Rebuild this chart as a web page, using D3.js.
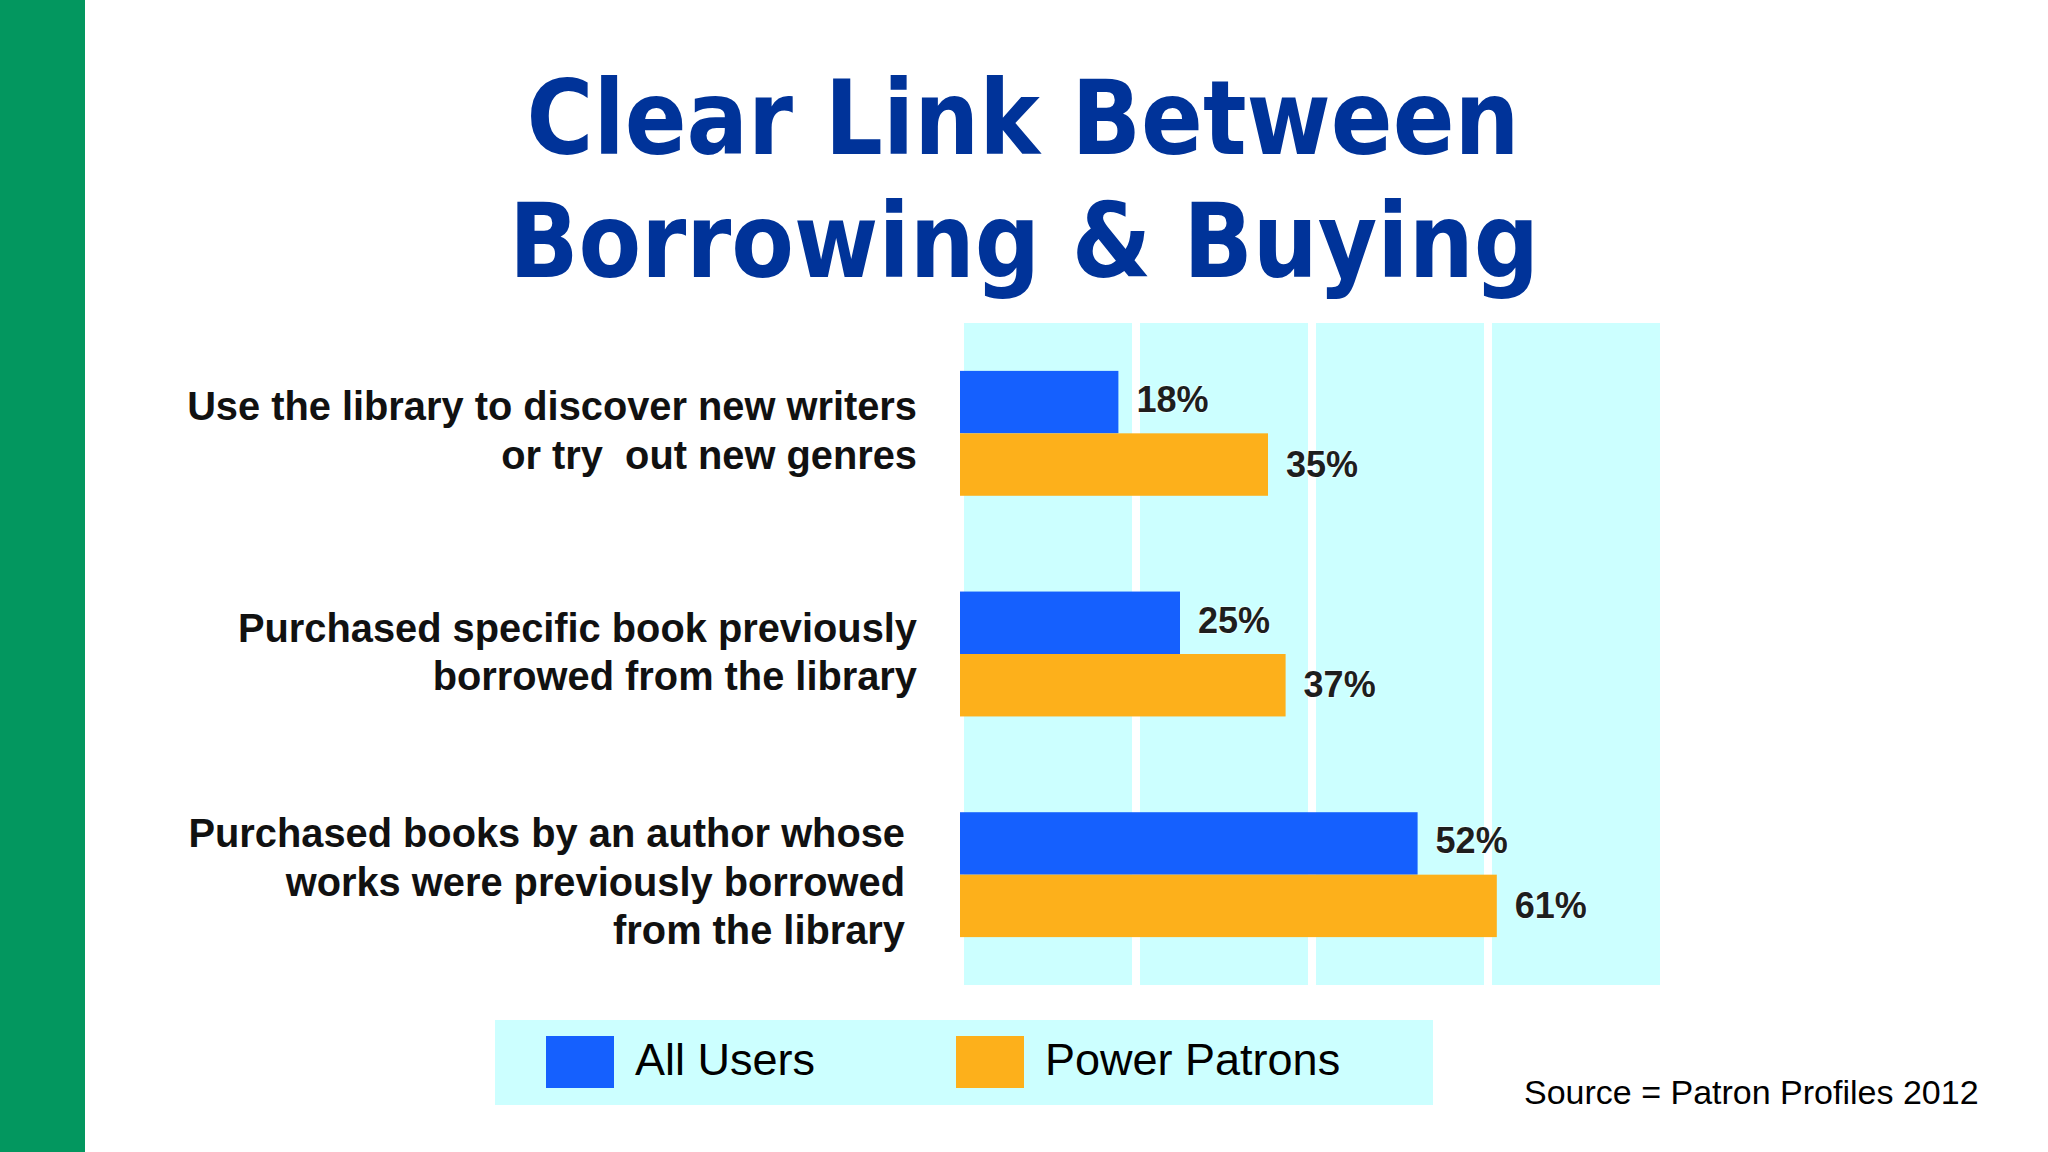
<!DOCTYPE html>
<html>
<head>
<meta charset="utf-8">
<script src="https://cdn.jsdelivr.net/npm/d3@7"></script>
<style>
  html, body { margin: 0; padding: 0; background: #fff; }
  svg { display: block; }
  text { white-space: pre; }
</style>
</head>
<body>
<div id="chart"></div>
<script>
// data
const categories = [
  ['Use the library to discover new writers', 'or try  out new genres'],
  ['Purchased specific book previously', 'borrowed from the library'],
  ['Purchased books by an author whose', 'works were previously borrowed', 'from the library']
]
const seriesNames = ['All Users', 'Power Patrons']
const allUsers = [18, 25, 52]
const powerPatrons = [35, 37, 61]
const titleLines = ['Clear Link Between', 'Borrowing & Buying']
const sourceNote = 'Source = Patron Profiles 2012'

const W = 2048, H = 1152
const colors = ['#1560fe', '#fdb01b']
const panelFill = '#ccffff'

const rows = categories.map((c, i) => ({
  idx: i,
  lines: c,
  values: [allUsers[i], powerPatrons[i]]
}))

const svg = d3.select('#chart').append('svg')
    .attr('width', W)
    .attr('height', H)

// green strip on the left
svg.append('rect')
    .attr('x', 0).attr('y', 0)
    .attr('width', 85).attr('height', H)
    .attr('fill', '#03975f')

// title
svg.append('g').selectAll('text')
  .data(titleLines)
  .join('text')
    .attr('x', (d, i) => i == 0 ? 1023 : 1024)
    .attr('y', (d, i) => i == 0 ? 154 : 277)
    .attr('text-anchor', 'middle')
    .attr('font-family', 'Tahoma, Verdana, "DejaVu Sans", sans-serif')
    .attr('font-weight', 'bold')
    .attr('font-size', 104)
    .attr('fill', '#003399')
    .attr('textLength', (d, i) => i == 0 ? 993 : 1030)
    .attr('lengthAdjust', 'spacingAndGlyphs')
    .text(d => d)

// scales
const x = d3.scaleLinear().domain([0, 80]).range([960, 1664])
const y = d3.scaleBand()
    .domain(rows.map(d => d.idx))
    .range([323, 985])
    .paddingInner(0.434)
    .paddingOuter(0.217)
const ySub = d3.scaleBand()
    .domain([0, 1])
    .range([0, y.bandwidth()])

// background columns, white gaps at the 20% gridlines
const ticks = x.ticks(4)
svg.append('g').selectAll('rect')
  .data(d3.pairs(ticks))
  .join('rect')
    .attr('x', d => x(d[0]) + 4)
    .attr('width', d => x(d[1]) - x(d[0]) - 8)
    .attr('y', 323)
    .attr('height', 985 - 323)
    .attr('fill', panelFill)

// bars
const groups = svg.append('g').selectAll('g')
  .data(rows)
  .join('g')
    .attr('transform', d => `translate(0, ${y(d.idx)})`)

groups.selectAll('rect')
  .data(d => d.values)
  .join('rect')
    .attr('x', x(0))
    .attr('y', (d, i) => ySub(i))
    .attr('width', d => x(d) - x(0))
    .attr('height', ySub.bandwidth())
    .attr('fill', (d, i) => colors[i])

// value labels
groups.selectAll('text')
  .data(d => d.values)
  .join('text')
    .attr('x', d => x(d) + 18)
    .attr('y', (d, i) => ySub(i) + ySub.bandwidth() / 2 + 10 + i * 2)
    .attr('font-family', '"Liberation Sans Narrow", "Liberation Sans", Arial, sans-serif')
    .attr('font-weight', 'bold')
    .attr('font-size', 36)
    .attr('fill', '#1e1e1e')
    .style('paint-order', 'stroke')
    .attr('stroke', '#ffffff')
    .attr('stroke-opacity', 0.5)
    .attr('stroke-width', 2)
    .text(d => d + '%')

// category labels on the left
const labelNudge = [{dx: 0, dy: -2}, {dx: 0, dy: -1}, {dx: -12, dy: 8}]
const lineGap = 48.5
svg.append('g').selectAll('text')
  .data(rows)
  .join('text')
    .attr('text-anchor', 'end')
    .attr('font-family', '"Liberation Sans", Arial, sans-serif')
    .attr('font-weight', 'bold')
    .attr('font-size', 39.8)
    .attr('fill', '#111')
    .each(function(d) {
      const n = d.lines.length
      const cy = y(d.idx) + y.bandwidth() / 2 + labelNudge[d.idx].dy
      d3.select(this).selectAll('tspan')
        .data(d.lines)
        .join('tspan')
          .attr('x', 917 + labelNudge[d.idx].dx)
          .attr('y', (t, j) => cy + (j - (n - 1) / 2) * lineGap + 13)
          .text(t => t)
    })

// legend
const legend = svg.append('g')
legend.append('rect')
    .attr('x', 495).attr('y', 1020)
    .attr('width', 1433 - 495).attr('height', 85)
    .attr('fill', panelFill)

const legendX = [546, 956]
const items = legend.selectAll('g.item')
  .data(seriesNames)
  .join('g')
    .attr('class', 'item')
    .attr('transform', (d, i) => `translate(${legendX[i]}, 1036)`)
items.append('rect')
    .attr('width', 68).attr('height', 52)
    .attr('fill', (d, i) => colors[i])
items.append('text')
    .attr('x', 89)
    .attr('y', 39)
    .attr('font-family', '"Liberation Sans", Arial, sans-serif')
    .attr('font-size', 45)
    .attr('fill', '#000')
    .text(d => d)

// source note
svg.append('text')
    .attr('x', 1524)
    .attr('y', 1104)
    .attr('font-family', '"Liberation Sans", Arial, sans-serif')
    .attr('font-size', 34)
    .attr('fill', '#000')
    .text(sourceNote)
</script>
</body>
</html>
